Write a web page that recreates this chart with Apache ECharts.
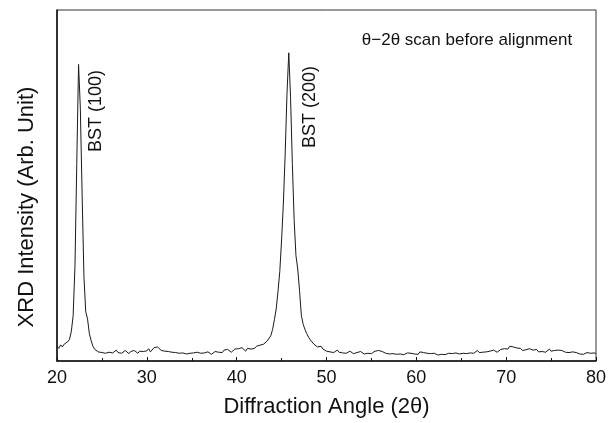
<!DOCTYPE html>
<html>
<head>
<meta charset="utf-8">
<script src="https://cdn.jsdelivr.net/npm/echarts@6/dist/echarts.min.js"></script>
<style>
  html, body { margin: 0; padding: 0; background: #fff; }
  #chart { width: 613px; height: 423px; }
</style>
</head>
<body>
<div id="chart"></div>
<script>
// scan: 20..80 deg, 0.2 deg step
var scanStart = 20;
var scanStep = 0.2;
var intensity = [
  42, 36, 46, 40, 48, 45, 55, 62, 85, 130,        // 20
  270, 560, 845, 720, 470, 240, 140, 120, 78, 58, // 22
  42, 33, 30, 26, 31, 24, 28, 22, 27, 25,         // 24
  29, 23, 27, 31, 24, 28, 22, 26, 30, 25,         // 26
  21, 27, 24, 30, 26, 22, 28, 33, 27, 24,         // 28
  29, 35, 26, 31, 38, 33, 40, 36, 30, 34,         // 30
  28, 32, 27, 30, 25, 29, 24, 27, 22, 26,         // 32
  23, 25, 20, 24, 22, 19, 23, 21, 25, 20,         // 34
  22, 18, 23, 20, 26, 22, 19, 24, 27, 22,         // 36
  25, 29, 24, 31, 27, 33, 28, 25, 30, 34,         // 38
  29, 35, 31, 38, 33, 28, 36, 40, 34, 38,         // 40
  36, 42, 39, 45, 41, 48, 52, 57, 62, 72,         // 42
  90, 118, 148, 198, 255, 345, 450, 590, 760, 878, // 44
  750, 560, 400, 300, 262, 200, 130, 105, 90, 78, // 46
  68, 60, 55, 48, 44, 40, 37, 42, 34, 31,         // 48
  28, 32, 26, 30, 24, 28, 31, 25, 27, 23,         // 50
  26, 22, 25, 28, 23, 21, 26, 24, 22, 27,         // 52
  23, 20, 24, 22, 26, 21, 25, 28, 24, 30,         // 54
  33, 27, 24, 22, 26, 20, 23, 21, 25, 19,         // 56
  22, 20, 24, 18, 21, 23, 19, 22, 25, 20,         // 58
  23, 19, 26, 21, 24, 20, 22, 27, 21, 18,         // 60
  22, 20, 17, 21, 19, 23, 18, 20, 22, 19,         // 62
  21, 18, 23, 25, 20, 24, 22, 27, 21, 25,         // 64
  23, 28, 22, 26, 30, 24, 27, 25, 29, 26,         // 66
  24, 28, 26, 31, 27, 25, 30, 33, 28, 35,         // 68
  38, 34, 42, 46, 40, 44, 37, 33, 36, 30,         // 70
  27, 32, 29, 35, 38, 31, 28, 33, 26, 30,         // 72
  27, 32, 25, 29, 34, 28, 24, 30, 27, 31,         // 74
  26, 30, 33, 25, 29, 24, 22, 26, 21, 24,         // 76
  22, 20, 23, 19, 21, 24, 20, 22, 25, 23,         // 78
  21                                              // 80
];
var xTicks = [20, 30, 40, 50, 60, 70, 80];

var data = intensity.map(function (v, i) {
  return [+(scanStart + i * scanStep).toFixed(1), v];
});

var font = 'Liberation Sans, Arial, Helvetica, sans-serif';
var chart = echarts.init(document.getElementById('chart'));

var option = {
  animation: false,
  backgroundColor: '#fff',
  grid: {
    left: 57, right: 17, top: 10, bottom: 61,
    show: true, borderColor: '#333', borderWidth: 1
  },
  xAxis: {
    type: 'value',
    min: xTicks[0], max: xTicks[xTicks.length - 1], interval: 10,
    name: 'Diffraction Angle (2θ)',
    nameLocation: 'middle', nameGap: 35,
    nameTextStyle: { fontFamily: font, fontSize: 22, color: '#111' },
    axisLine: { lineStyle: { color: '#111', width: 1.5 } },
    axisTick: { inside: true, length: 4, lineStyle: { color: '#111' } },
    minorTick: { show: true, splitNumber: 2, length: 3, lineStyle: { color: '#111' } },
    axisLabel: { fontFamily: font, fontSize: 18, color: '#111', margin: 8 },
    splitLine: { show: false }
  },
  yAxis: {
    type: 'value', min: 0, max: 1000,
    axisLine: { show: true, lineStyle: { color: '#111', width: 1.5 } },
    axisTick: { show: false },
    axisLabel: { show: false },
    splitLine: { show: false }
  },
  series: [{
    type: 'line',
    data: data,
    showSymbol: false,
    lineStyle: { color: '#1a1a1a', width: 1 }
  }],
  graphic: [
    {
      type: 'text', x: 27, y: 207, rotation: Math.PI / 2,
      style: { text: 'XRD Intensity (Arb. Unit)', fontFamily: font, fontSize: 22, fill: '#111',
        textAlign: 'center', textVerticalAlign: 'middle' }
    },
    {
      type: 'text', x: 96, y: 111, rotation: Math.PI / 2,
      style: { text: 'BST (100)', fontFamily: font, fontSize: 18, fill: '#111',
        textAlign: 'center', textVerticalAlign: 'middle' }
    },
    {
      type: 'text', x: 310, y: 107, rotation: Math.PI / 2,
      style: { text: 'BST (200)', fontFamily: font, fontSize: 18, fill: '#111',
        textAlign: 'center', textVerticalAlign: 'middle' }
    },
    {
      type: 'text', x: 467, y: 40,
      style: { text: 'θ−2θ scan before alignment', fontFamily: font, fontSize: 17, fill: '#111',
        textAlign: 'center', textVerticalAlign: 'middle' }
    }
  ]
};

chart.setOption(option);
</script>
</body>
</html>
